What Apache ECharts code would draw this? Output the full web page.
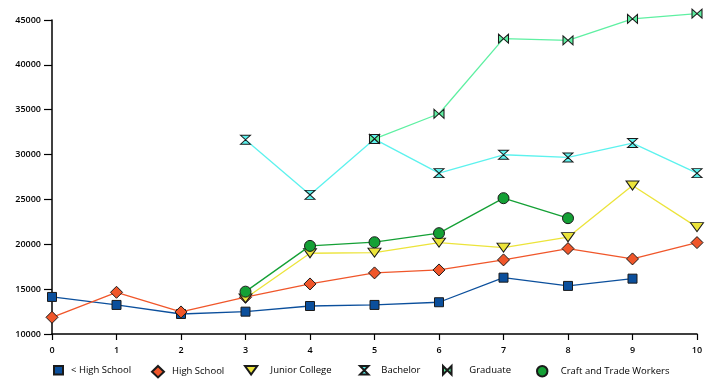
<!DOCTYPE html>
<html>
<head>
<meta charset="utf-8">
<script src="https://cdn.jsdelivr.net/npm/echarts@6/dist/echarts.min.js"></script>
<style>html,body{margin:0;padding:0;background:#fff}#c{width:714px;height:386px}</style>
</head>
<body>
<div id="c"></div>
<script>
const xValues = [0, 1, 2, 3, 4, 5, 6, 7, 8, 9, 10];
const seriesNames = ['< High School', 'High School', 'Junior College', 'Bachelor', 'Graduate', 'Craft and Trade Workers'];
const lessHighSchool = [14130, 13240, 12230, 12490, 13120, 13240, 13540, 16280, 15360, 16170, null];
const highSchool = [11860, 14650, 12460, 14100, 15580, 16810, 17140, 18260, 19520, 18370, 20190];
const juniorCollege = [null, null, null, 13980, 19000, 19070, 20190, 19630, 20790, 26550, 21910];
const bachelor = [null, null, null, 31650, 25510, 31730, 27930, 29980, 29680, 31280, 27930];
const graduate = [null, null, null, null, null, 31760, 34550, 42920, 42730, 45120, 45710];
const craftTrade = [null, null, null, 14720, 19820, 20230, 21240, 25140, 22910, null, null];
const yTicks = [10000, 15000, 20000, 25000, 30000, 35000, 40000, 45000];

const allValues = [lessHighSchool, highSchool, juniorCollege, bachelor, graduate, craftTrade];
const colors = ['#0b4f9c', '#f0562a', '#ece43a', '#5cf2ee', '#5ef0a2', '#14a035'];
const symbols = [
  'rect',
  'diamond',
  'path://M0,0L10,0L5,7Z',
  'path://M0,0L10,0L5,5L10,10L0,10L5,5Z',
  'path://M0,0L5,5L10,0L10,10L5,5L0,10Z',
  'circle'
];
const sizes = [[9,9],[12,12],[13,9],[10,9],[10,9],[11,11]];
const legendLeft = [53, 151, 244, 359, 442, 536];
const legendPad = [3, 3, 8, 7, 12, 8];

const series = allValues.map((vals, i) => ({
  name: seriesNames[i],
  type: 'line',
  data: xValues.map((x, j) => vals[j] == null ? null : [x, vals[j]]).filter(d => d),
  symbol: symbols[i],
  symbolSize: sizes[i],
  showAllSymbol: true,
  clip: false,
  lineStyle: { color: colors[i], width: 1.3 },
  itemStyle: { color: colors[i], borderColor: '#1a1a1a', borderWidth: 1 },
  z: 2 + i,
  animation: false
}));

const legends = seriesNames.map((n, i) => ({
  data: [{ name: n, icon: symbols[i] }],
  left: legendLeft[i],
  top: 365,
  itemWidth: sizes[i][0],
  itemHeight: sizes[i][1] * 0.95,
  itemGap: 0,
  padding: 0,
  selectedMode: false,
  textStyle: { fontFamily: 'Open Sans', fontSize: 9.5, color: '#000', padding: [0, 0, 0, legendPad[i]] }
}));

const chart = echarts.init(document.getElementById('c'));
chart.setOption({
  animation: false,
  backgroundColor: '#fff',
  grid: { left: 52, right: 17, top: 20, bottom: 52, containLabel: false },
  legend: legends,
  xAxis: {
    type: 'value', min: 0, max: 10, interval: 1,
    axisLine: { show: true, onZero: false, lineStyle: { color: '#000', width: 1.5 } },
    axisTick: { show: true, length: 6, lineStyle: { color: '#000', width: 1.2 } },
    axisLabel: { color: '#000', fontFamily: 'Open Sans', fontSize: 9, fontWeight: 600, margin: 12 },
    splitLine: { show: false }
  },
  yAxis: {
    type: 'value', min: yTicks[0], max: yTicks[yTicks.length - 1], interval: 5000,
    axisLine: { show: true, onZero: false, lineStyle: { color: '#000', width: 1.5 } },
    axisTick: { show: true, length: 8, lineStyle: { color: '#000', width: 1.2 } },
    axisLabel: { color: '#000', fontFamily: 'Open Sans', fontSize: 9, fontWeight: 600, margin: 11, formatter: v => String(v) },
    splitLine: { show: false }
  },
  series: series
});
</script>
</body>
</html>
